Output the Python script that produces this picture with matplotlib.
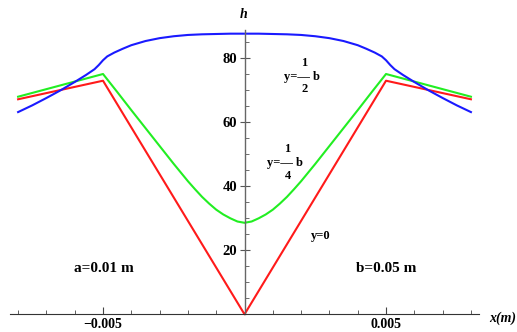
import numpy as np
import matplotlib.pyplot as plt
from matplotlib.ticker import FixedLocator, MultipleLocator

plt.rcParams['font.family'] = 'Liberation Serif'
plt.rcParams['font.weight'] = 'bold'

# x positions in m, h values
x_blue = np.array([-8.0, -7.5, -7.0, -6.5, -6.0, -5.6, -5.3, -5.15, -5.0, -4.85, -4.6, -4.3,
                   -4.0, -3.5, -3.0, -2.5, -2.0, -1.5, -1.0, -0.5, 0.0,
                   0.5, 1.0, 1.5, 2.0, 2.5, 3.0, 3.5, 4.0, 4.3, 4.6, 4.85, 5.0,
                   5.15, 5.3, 5.6, 6.0, 6.5, 7.0, 7.5, 8.0]) * 1e-3
h_blue = [63.2, 65.3, 67.6, 70.0, 72.6, 74.8, 76.6, 77.9, 79.4, 80.6, 81.8, 83.0,
          84.1, 85.4, 86.3, 86.9, 87.3, 87.5, 87.6, 87.7, 87.7,
          87.7, 87.6, 87.5, 87.3, 86.9, 86.3, 85.4, 84.1, 83.0, 81.8, 80.6, 79.4,
          77.9, 76.6, 74.8, 72.6, 70.0, 67.6, 65.3, 63.2]

x_green = np.array([-8.0, -5.0, -4.5, -4.0, -3.5, -3.0, -2.5, -2.0, -1.75, -1.5, -1.25, -1.0,
                    -0.75, -0.5, -0.25, 0.0,
                    0.25, 0.5, 0.75, 1.0, 1.25, 1.5, 1.75, 2.0, 2.5, 3.0, 3.5, 4.0, 4.5,
                    5.0, 8.0]) * 1e-3
h_green = [68.0, 75.1, 69.5, 63.8, 58.2, 52.6, 47.0, 41.6, 39.1, 36.7, 34.6, 32.7,
           31.2, 30.0, 29.0, 28.6,
           29.0, 30.0, 31.2, 32.7, 34.6, 36.7, 39.1, 41.6, 47.0, 52.6, 58.2, 63.8, 69.5,
           75.1, 68.0]

x_red = np.array([-8.0, -5.0, 0.0, 5.0, 8.0]) * 1e-3
h_red = [67.2, 73.0, 0.0, 73.0, 67.2]

xticks = [-0.005, 0.005]
xtick_labels = ['\u22120.005', '0.005']
yticks = [20, 40, 60, 80]

fig = plt.figure(figsize=(5.17, 3.32), dpi=100)
ax = fig.add_axes([0.0186, 0.0533, 0.9087, 0.8578])

ax.plot(x_red, h_red, color='#ff1a1a', linewidth=1.5, clip_on=False)
ax.plot(x_green, h_green, color='#22ee22', linewidth=1.5, clip_on=False)
ax.plot(x_blue, h_blue, color='#1a1aff', linewidth=1.5, clip_on=False)

ax.set_xlim(-0.0083, 0.0083)
ax.set_ylim(0, 89)

for s in ['top', 'right']:
    ax.spines[s].set_visible(False)
ax.spines['left'].set_position(('data', 0))
ax.spines['bottom'].set_position(('data', 0))
ax.spines['left'].set_color('#666666')
ax.spines['bottom'].set_color('#333333')
ax.spines['left'].set_linewidth(1.0)
ax.spines['bottom'].set_linewidth(0.8)

ax.xaxis.set_major_locator(FixedLocator(xticks))
ax.set_xticklabels(xtick_labels)
ax.xaxis.set_minor_locator(FixedLocator([v * 1e-3 for v in [-8, -7, -6, -4, -3, -2, -1, 1, 2, 3, 4, 6, 7, 8]]))
ax.yaxis.set_major_locator(FixedLocator(yticks))
ax.yaxis.set_minor_locator(MultipleLocator(5))

ax.tick_params(axis='x', which='major', direction='in', length=5, width=0.8, color='#444444',
               labelsize=10, pad=3)
ax.tick_params(axis='x', which='minor', direction='in', length=3, width=0.6, color='#444444')
ax.tick_params(axis='y', which='major', direction='inout', length=7, width=0.8, color='#555555',
               labelsize=10.5, pad=2)
ax.tick_params(axis='y', which='minor', direction='in', length=3, width=0.6, color='#555555')
for lab in ax.get_xticklabels() + ax.get_yticklabels():
    lab.set_fontweight('bold')

# axis labels
fig.text(244 / 517, 1 - 15 / 332, 'h', fontsize=10, style='italic', fontweight='bold',
         ha='center', va='center')
fig.text(503 / 517, 1 - 318 / 332, 'x(m)', fontsize=10, style='italic', fontweight='bold',
         ha='center', va='center')

# annotations
def px(x, y, s, size, **kw):
    fig.text(x / 517, 1 - y / 332, s, fontsize=size, fontweight='bold',
             ha='center', va='center', **kw)

px(104, 268, 'a=0.01 m', 11)
px(386, 268, 'b=0.05 m', 11)
px(321, 236, 'y=0', 9)

px(304.5, 62.5, '1', 9)
px(301.5, 77, 'y=\u2014 b', 9)
px(305, 89.5, '2', 9)

px(287.5, 148.5, '1', 9)
px(284.5, 163, 'y=\u2014 b', 9)
px(288, 176, '4', 9)

fig.savefig('out.png', dpi=100)
